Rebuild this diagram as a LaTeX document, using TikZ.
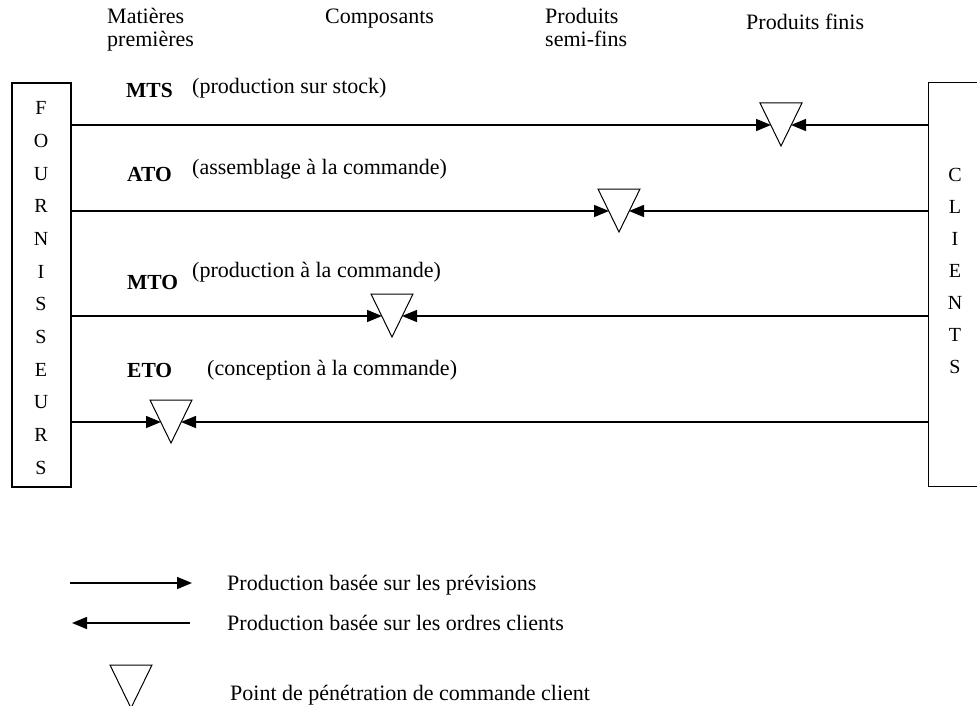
\documentclass[tikz,border=0pt]{standalone}
\usepackage{fontspec}
\setmainfont{Liberation Serif}
\usetikzlibrary{arrows.meta,calc}
\tikzset{
  txt/.style={font=\fontsize{22}{24}\selectfont, anchor=base west, inner sep=0},
  btxt/.style={txt, font=\fontsize{21.5}{24}\selectfont\bfseries},
  box/.style={draw, line width=1.2pt},
  flow/.style={line width=1.5pt, -{Triangle[length=15pt,width=12pt]}},
  tri/.style={line width=1pt, line join=miter},
}
\newcommand{\penpoint}[1]{\draw[tri] ($(#1)+(-21,-22)$) -- ($(#1)+(21,-22)$) -- ($(#1)+(0,21)$) -- cycle;}
\begin{document}
\begin{tikzpicture}[x=1pt,y=-1pt]
\path[use as bounding box] (0,0) rectangle (977,706);
% headers
\node[txt] (h1) at (107,24) {Matières};
\node[txt] (h1b) at (107,47) {premières};
\node[txt] (h2) at (325,24) {Composants};
\node[txt] (h3) at (545,24) {Produits};
\node[txt] (h3b) at (545,47) {semi-fins};
\node[txt] (h4) at (746,30) {Produits finis};
% boxes
\node[box, minimum width=59, minimum height=404, inner sep=0] (four) at (41.5,285) {};
\node[align=center, inner sep=0, font=\fontsize{20}{32.7}\selectfont] (fourt) at (41,288)
  {F\\O\\U\\R\\N\\I\\S\\S\\E\\U\\R\\S};
\node[inner sep=0, minimum width=48, minimum height=403] (cli) at (953,284.5) {};
\draw[box] (cli.north east) -- (cli.north west) -- (cli.south west) -- (cli.south east);
\node[align=center, inner sep=0, font=\fontsize{20}{32}\selectfont] (clit) at (955,271)
  {C\\L\\I\\E\\N\\T\\S};
% strategy labels
\node[btxt] (m1) at (126,98) {MTS};
\node[txt] (d1) at (192,94) {(production sur stock)};
\node[btxt] (m2) at (127,182) {ATO};
\node[txt] (d2) at (192,174) {(assemblage à la commande)};
\node[btxt] (m3) at (127,289) {MTO};
\node[txt] (d3) at (192,277) {(production à la commande)};
\node[btxt] (m4) at (127,377) {ETO};
\node[txt] (d4) at (207,375) {(conception à la commande)};
% decoupling points
\coordinate (t1) at (781,125);
\coordinate (t2) at (619,211);
\coordinate (t3) at (392,316);
\coordinate (t4) at (171,422);
\foreach \t in {t1,t2,t3,t4} {
  \penpoint{\t}
  \draw[flow] (four.east |- \t) -- ($(\t)+(-10,0)$);
  \draw[flow] (cli.west |- \t) -- ($(\t)+(10,0)$);
}
% legend
\coordinate (l1a) at (70,583); \coordinate (l1b) at (192,583);
\coordinate (l2a) at (190,623); \coordinate (l2b) at (72,623);
\draw[flow] (l1a) -- (l1b);
\draw[flow] (l2a) -- (l2b);
\coordinate (lt) at (131,687);
\penpoint{lt}
\node[txt] (g1) at (227,590) {Production basée sur les prévisions};
\node[txt] (g2) at (227,630) {Production basée sur les ordres clients};
\node[txt] (g3) at (230,700) {Point de pénétration de commande client};
\end{tikzpicture}
\end{document}
